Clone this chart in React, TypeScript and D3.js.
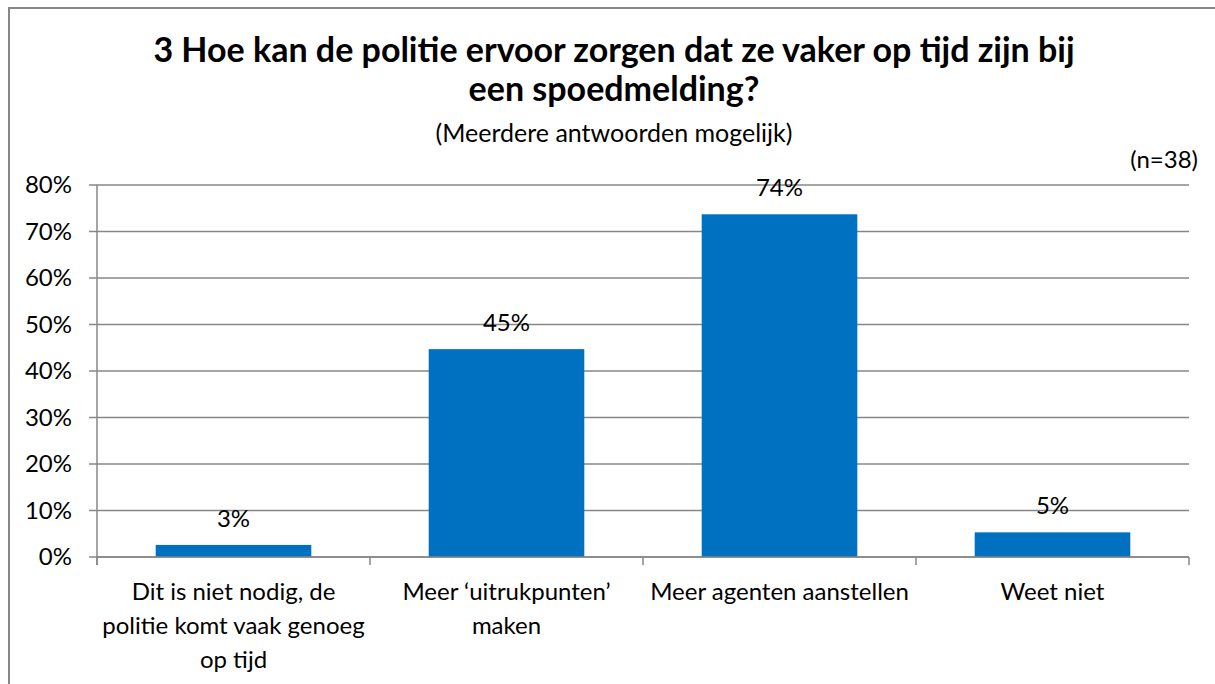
import React from 'react';
import * as d3 from 'd3';

const categories: string[][] = [
  ['Dit is niet nodig, de', 'politie komt vaak genoeg', 'op tijd'],
  ['Meer \u2018uitrukpunten\u2019', 'maken'],
  ['Meer agenten aanstellen'],
  ['Weet niet'],
];
const values: number[] = [2.6, 44.7, 73.7, 5.3];
const valueLabels: string[] = ['3%', '45%', '74%', '5%'];
const yTicks: number[] = [0, 10, 20, 30, 40, 50, 60, 70, 80];

const W = 1215;
const H = 684;
const margin = { top: 185, right: 26, bottom: 127, left: 97 };
const FONT = 'Lato, "Open Sans", sans-serif';
const GRID = '#878787';
const BAR = '#0070C0';
const FS = 24;

const App: React.FC = () => {
  const x = d3.scaleBand<number>()
    .domain(d3.range(values.length))
    .range([margin.left, W - margin.right])
    .paddingInner(0.43)
    .paddingOuter(0.215);

  const y = d3.scaleLinear()
    .domain([0, 80])
    .range([H - margin.bottom, margin.top]);

  const step = x.step();
  const x0 = margin.left;
  const x1 = W - margin.right;
  const yBase = y(0);

  return (
    <svg width={W} height={H} style={{ position: 'fixed', left: 0, top: 0, background: '#fff' }}
      fontFamily={FONT}>
      <rect x={9} y={8} width={W + 20} height={H + 20} fill="#fff" stroke={GRID} strokeWidth={2} />

      {/* title */}
      <text x={614} y={62} textAnchor="middle" fontSize={34} fontWeight="bold" fill="#000">
        3 Hoe kan de politie ervoor zorgen dat ze vaker op tijd zijn bij
      </text>
      <text x={614} y={101} textAnchor="middle" fontSize={34} fontWeight="bold" fill="#000">
        een spoedmelding?
      </text>
      <text x={614} y={142} textAnchor="middle" fontSize={25} fill="#000">
        (Meerdere antwoorden mogelijk)
      </text>
      <text x={1198} y={168} textAnchor="end" fontSize={FS} fill="#000">(n=38)</text>

      {/* gridlines + y ticks */}
      {yTicks.map(t => (
        <g key={t}>
          <line x1={x0 - 8} x2={x1} y1={y(t)} y2={y(t)} stroke={GRID} strokeWidth={1.5} />
          <text x={72} y={y(t)} dy="0.35em" textAnchor="end" fontSize={FS} fill="#000">{t}%</text>
        </g>
      ))}

      {/* y axis */}
      <line x1={x0} x2={x0} y1={margin.top} y2={yBase + 8} stroke={GRID} strokeWidth={1.5} />

      {/* bars */}
      {values.map((v, i) => (
        <rect key={i} x={x(i)!} y={y(v)} width={x.bandwidth()} height={yBase - y(v)} fill={BAR} />
      ))}

      {/* value labels */}
      {values.map((v, i) => (
        <text key={i} x={x(i)! + x.bandwidth() / 2} y={y(v) - 18} textAnchor="middle"
          fontSize={FS} fill="#000">{valueLabels[i]}</text>
      ))}

      {/* x axis */}
      <line x1={x0} x2={x1} y1={yBase} y2={yBase} stroke={GRID} strokeWidth={1.5} />
      {d3.range(values.length + 1).map(i => (
        <line key={i} x1={x0 + i * step} x2={x0 + i * step} y1={yBase} y2={yBase + 8}
          stroke={GRID} strokeWidth={1.5} />
      ))}

      {/* category labels */}
      {categories.map((lines, i) => (
        <text key={i} textAnchor="middle" fontSize={FS} fill="#000">
          {lines.map((l, j) => (
            <tspan key={j} x={x(i)! + x.bandwidth() / 2} y={600 + j * 34}>{l}</tspan>
          ))}
        </text>
      ))}
    </svg>
  );
};

export default App;
